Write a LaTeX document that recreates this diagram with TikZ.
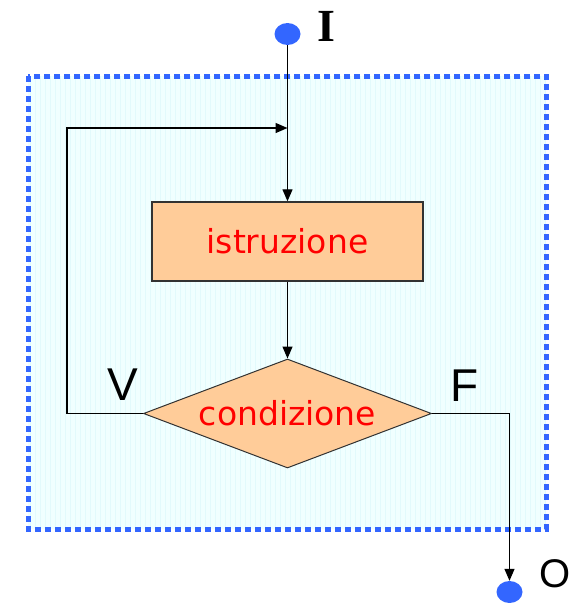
\documentclass[tikz,border=0pt]{standalone}
\usepackage{fontspec}
\setmainfont{DejaVu Sans}
\newfontfamily\labelfont{Liberation Sans}
\newfontfamily\serifl{Liberation Serif}
\usepackage{tikz}
\usetikzlibrary{shapes,arrows.meta,positioning}
\definecolor{dotblue}{RGB}{51, 102, 255}
\definecolor{peach}{RGB}{255, 204, 153}
\definecolor{framebg}{RGB}{240, 255, 255}
\definecolor{gridcol}{RGB}{226, 250, 252}
\definecolor{textred}{RGB}{255, 0, 0}
\definecolor{edgegray}{RGB}{50, 50, 50}

\begin{document}
\begin{tikzpicture}[
    x=1pt, y=-1pt,
    >={Triangle[length=12pt, width=10pt]},
    stepbox/.style={draw=edgegray, line width=1.4pt, fill=peach, text=textred, font=\fontsize{33}{38}\selectfont, minimum width=271pt, minimum height=79pt, inner sep=0pt},
    testbox/.style={diamond, shape aspect=2.64, draw=edgegray, line width=1pt, fill=peach, text=textred, font=\fontsize{33}{38}\selectfont, minimum width=288pt, minimum height=109pt, inner sep=0pt},
    endpoint/.style={ellipse, fill=dotblue, draw=none, minimum width=26pt, minimum height=22pt, inner sep=0pt},
    tag/.style={font=\labelfont\fontsize{46}{50}\selectfont, inner sep=0pt},
    flow/.style={->, line width=1.3pt, black}
]
\useasboundingbox (0,0) rectangle (580,603);

% Background frame
\fill[framebg] (28,76) rectangle (546,529);
\draw[gridcol, line width=0.3pt, step=5] (28,76) grid (546,529);
\draw[dotblue, line width=5pt, dash pattern=on 6pt off 4pt] (28,76) rectangle (546,529);

% ==================== NODES ====================
\node[endpoint] (start) at (287.5, 34) {};
\node[tag, font=\serifl\bfseries\fontsize{46}{50}\selectfont] (lblI) at (326, 26) {I};

\node[stepbox] (istr) at (287.5, 241.5) {istruzione};
\node[testbox] (cond) at (287.5, 413.5) {condizione};

\node[tag] (lblV) at (123, 385) {V};
\node[tag] (lblF) at (465, 386) {F};

\node[endpoint] (stop) at (509.5, 592) {};
\node[tag, font=\labelfont\fontsize{40}{44}\selectfont] (lblO) at (555, 574) {O};

\coordinate (loopL) at (67, 128);
\coordinate (join) at (287.5, 128);

% ==================== CONNECTORS ====================
\draw[flow] (start.south) -- (istr.north);
\draw[flow] (istr.south) -- (cond.north);

% back loop on V
\draw[flow] (cond.west) -| (loopL) -- (join);

% exit on F
\draw[flow] (cond.east) -| (stop.north);

\end{tikzpicture}
\end{document}
